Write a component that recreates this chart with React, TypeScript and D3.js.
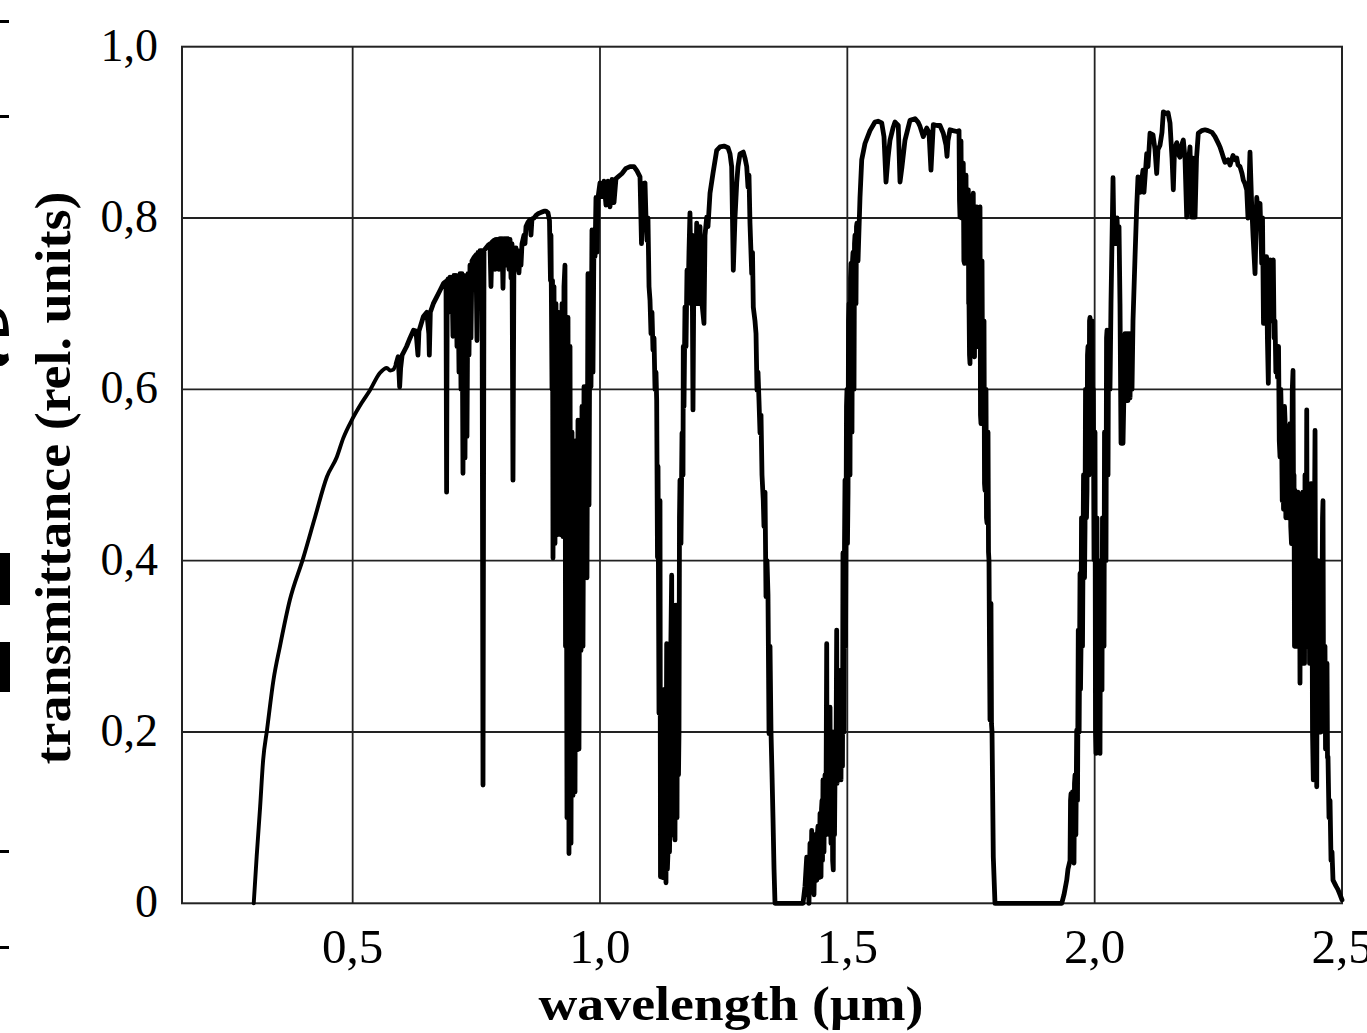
import React from 'react';
import * as d3 from 'd3';

// Axis ticks
const xTicks: number[] = [0.5, 1.0, 1.5, 2.0, 2.5];
const yTicks: number[] = [0, 0.2, 0.4, 0.6, 0.8, 1.0];
const xGrid: number[] = [0.5, 1.0, 1.5, 2.0];
const yGrid: number[] = [0.2, 0.4, 0.6, 0.8];

// Spectrum, [wavelength (nm), transmittance]
const risingEdge: [number, number][] = [
  [300, 0.0], [306, 0.055], [313, 0.113], [319, 0.167], [327, 0.203], [340, 0.261], [353, 0.3],
  [373, 0.354], [400, 0.403], [424, 0.451], [448, 0.498], [468, 0.521], [481, 0.543], [500, 0.566],
  [518, 0.584], [535, 0.599], [555, 0.619], [569, 0.625], [576, 0.622], [582, 0.623], [588, 0.63],
];

const orangeNotches: [number, number][] = [
  [588, 0.63], [592, 0.638], [594, 0.615], [595, 0.603], [597, 0.625], [600, 0.64], [609, 0.65], [616, 0.66],
  [623, 0.669], [628, 0.668], [632, 0.64], [634, 0.668], [643, 0.685], [650, 0.69], [654, 0.665],
  [655, 0.64], [657, 0.69], [663, 0.7], [670, 0.708], [677, 0.716], [684, 0.724],
];

const redBands: [number, number][] = [
  [688.7, 0.726], [689.9, 0.48], [691.2, 0.726], [692.7, 0.729], [694.8, 0.7], [696.8, 0.731],
  [698.8, 0.69], [700.8, 0.731], [702.8, 0.662], [704.8, 0.733], [706.9, 0.67], [708.9, 0.733],
  [710.9, 0.65], [712.9, 0.73], [715.0, 0.62], [717.0, 0.735], [719.0, 0.6], [721.0, 0.735],
  [723.0, 0.502], [725.1, 0.733], [727.1, 0.52], [729.1, 0.73], [731.1, 0.545], [733.1, 0.735],
  [735.2, 0.64], [737.2, 0.745], [739.2, 0.66], [741.2, 0.75], [745.3, 0.754], [749.3, 0.757],
  [751.3, 0.657], [753.4, 0.76], [755.4, 0.7], [757.4, 0.762], [761.5, 0.762], [763.5, 0.138],
  [765.5, 0.762], [769.5, 0.765], [773.6, 0.768], [777.6, 0.77], [779.6, 0.72], [781.7, 0.772],
  [785.7, 0.774], [787.7, 0.74], [789.8, 0.775], [791.8, 0.745], [793.8, 0.775], [795.8, 0.74],
  [797.8, 0.776], [799.9, 0.75], [801.9, 0.776], [803.9, 0.718], [805.9, 0.776], [808.0, 0.745],
  [810.0, 0.776], [812.0, 0.75], [814.0, 0.776], [816.0, 0.74], [818.1, 0.775], [820.1, 0.73],
  [822.1, 0.77], [824.1, 0.494], [826.1, 0.765], [828.2, 0.74], [830.2, 0.765], [832.2, 0.74],
  [834.2, 0.762], [836.2, 0.736], [838.3, 0.76], [840.3, 0.745], [842.3, 0.77], [846.4, 0.78],
  [848.4, 0.77], [850.4, 0.79], [854.4, 0.795], [858.5, 0.798], [860.5, 0.78], [862.5, 0.799],
  [866.6, 0.8], [870.6, 0.803], [874.7, 0.805], [878.7, 0.806], [882.7, 0.807], [886.8, 0.808],
  [890.8, 0.808], [894.9, 0.806], [897.9, 0.797],
];

const band940: [number, number][] = [
  [899.9, 0.727], [900.9, 0.78], [903.0, 0.6], [904.0, 0.727], [905.0, 0.403], [907.0, 0.72],
  [909.0, 0.42], [911.0, 0.7], [913.1, 0.43], [915.1, 0.69], [917.1, 0.44], [919.1, 0.681],
  [921.2, 0.43], [923.2, 0.7], [925.2, 0.428], [927.2, 0.72], [929.2, 0.745], [930.3, 0.3],
  [931.3, 0.684], [933.3, 0.1], [935.3, 0.684], [937.3, 0.058], [939.4, 0.65], [941.4, 0.07],
  [943.4, 0.55], [945.4, 0.126], [947.4, 0.521], [949.5, 0.13], [951.5, 0.54], [953.5, 0.179],
  [955.5, 0.564], [957.5, 0.18], [959.6, 0.564], [961.6, 0.295], [963.6, 0.58], [965.6, 0.3],
  [967.7, 0.603], [969.7, 0.381], [971.7, 0.603], [973.7, 0.38], [975.7, 0.735], [977.8, 0.465],
  [979.8, 0.735], [981.8, 0.603], [983.8, 0.786], [985.8, 0.62], [987.9, 0.786], [989.9, 0.755],
  [991.9, 0.824], [993.9, 0.76], [996.0, 0.824],
];

const window1060: [number, number][] = [
  [1000, 0.841], [1004.0, 0.825], [1008.1, 0.843], [1012.1, 0.815], [1016.2, 0.843], [1020.2, 0.813],
  [1024.3, 0.845], [1028.3, 0.818], [1032.3, 0.846], [1036.4, 0.848], [1044.5, 0.852], [1052.6, 0.858],
  [1060.6, 0.86], [1068.7, 0.86], [1074.8, 0.855], [1080.9, 0.848], [1083.9, 0.77], [1086.9, 0.84],
  [1091.0, 0.841], [1093.0, 0.8], [1095.0, 0.774], [1097.0, 0.8], [1099.1, 0.72], [1101.1, 0.704],
  [1103.1, 0.665], [1105.1, 0.69], [1107.1, 0.646], [1109.2, 0.66], [1111.2, 0.6], [1113.2, 0.62],
  [1114.6, 0.587], [1116.2, 0.404], [1117.3, 0.51], [1119.3, 0.222], [1121.3, 0.47], [1122.3, 0.031],
  [1123.3, 0.25], [1124.3, 0.06], [1125.3, 0.144], [1126.4, 0.03], [1127.4, 0.2], [1128.4, 0.04],
  [1129.4, 0.05], [1130.4, 0.22], [1131.4, 0.25], [1132.4, 0.06], [1133.4, 0.024], [1134.1, 0.2],
  [1134.8, 0.303], [1136.2, 0.04], [1137.5, 0.06], [1138.5, 0.28], [1139.5, 0.3], [1140.5, 0.06],
  [1141.5, 0.1], [1143.2, 0.3], [1144.9, 0.383], [1145.8, 0.1], [1146.6, 0.08], [1147.6, 0.3],
  [1148.6, 0.348], [1150.1, 0.09], [1151.6, 0.074], [1152.6, 0.3], [1153.6, 0.348], [1154.6, 0.1],
  [1155.7, 0.1], [1156.7, 0.33], [1157.7, 0.348], [1158.7, 0.15], [1159.7, 0.2], [1160.7, 0.45],
  [1161.7, 0.494], [1163.7, 0.42], [1165.8, 0.549], [1167.8, 0.5], [1168.4, 0.65], [1169.8, 0.58],
  [1171.8, 0.696], [1173.9, 0.65], [1175.9, 0.739], [1177.9, 0.7], [1179.9, 0.76], [1181.9, 0.806],
  [1184.0, 0.72], [1186.0, 0.78], [1188.0, 0.576], [1190.0, 0.76], [1192.1, 0.7], [1195.5, 0.794],
  [1198.1, 0.7], [1202.2, 0.79], [1206.2, 0.7], [1210.2, 0.677], [1212.3, 0.78], [1215.7, 0.801],
  [1218.3, 0.79], [1222.4, 0.829], [1228.4, 0.852], [1235.9, 0.879], [1242.6, 0.883], [1250.7, 0.884],
  [1258.8, 0.882], [1262.8, 0.875], [1266.2, 0.86], [1269.5, 0.739], [1272.9, 0.8], [1276.4, 0.841],
  [1279.0, 0.86], [1283.0, 0.875], [1289.7, 0.877], [1293.1, 0.87], [1296.6, 0.86], [1299.2, 0.836],
  [1301.2, 0.85], [1303.2, 0.794], [1306.7, 0.735], [1308.3, 0.76], [1309.9, 0.696], [1313.3, 0.68],
  [1315.4, 0.665], [1317.4, 0.599], [1319.4, 0.62], [1321.4, 0.587], [1323.5, 0.549], [1325.5, 0.57],
  [1327.5, 0.5], [1330.1, 0.47], [1331.5, 0.44], [1333.6, 0.48], [1335.6, 0.358], [1337.6, 0.4],
  [1339.6, 0.36], [1341.7, 0.198], [1343.7, 0.3], [1345.7, 0.2], [1347.7, 0.152], [1349.7, 0.1],
  [1351.8, 0.04], [1353.8, 0.0],
];

const window1600: [number, number][] = [
  [1374.0, 0], [1394.2, 0], [1410.4, 0], [1414.4, 0.02], [1417.9, 0.054], [1419.2, 0.01], [1420.5, 0.03],
  [1422.5, 0.0], [1424.5, 0.07], [1426.3, 0.02], [1428.0, 0.085], [1429.3, 0.02], [1430.6, 0.05],
  [1432.6, 0.01], [1434.6, 0.08], [1436.4, 0.03], [1438.1, 0.027], [1439.4, 0.08], [1440.7, 0.09],
  [1442.8, 0.03], [1444.8, 0.105], [1445.8, 0.05], [1446.8, 0.031], [1447.8, 0.11], [1448.8, 0.12],
  [1449.8, 0.05], [1450.8, 0.144], [1451.8, 0.07], [1452.8, 0.06], [1453.8, 0.13], [1454.9, 0.15],
  [1456.6, 0.08], [1458.3, 0.303], [1459.1, 0.1], [1459.9, 0.12], [1461.4, 0.22], [1462.9, 0.2],
  [1464.0, 0.08], [1465.0, 0.229], [1466.0, 0.1], [1467.0, 0.07], [1468.0, 0.2], [1469.0, 0.2],
  [1470.3, 0.05], [1471.6, 0.039], [1472.3, 0.18], [1473.1, 0.2], [1474.1, 0.08], [1475.1, 0.15],
  [1476.8, 0.14], [1478.5, 0.319], [1479.3, 0.14], [1480.1, 0.15], [1481.6, 0.26], [1483.2, 0.25],
  [1484.2, 0.15], [1485.2, 0.272], [1486.2, 0.16], [1487.2, 0.144], [1488.2, 0.27], [1489.2, 0.27],
  [1490.2, 0.16], [1491.2, 0.409], [1492.3, 0.22], [1493.3, 0.2], [1494.3, 0.42], [1495.3, 0.494],
  [1496.3, 0.3], [1497.3, 0.42], [1498.3, 0.58], [1499.3, 0.6], [1500.3, 0.42], [1501.4, 0.48],
  [1502.4, 0.68], [1503.4, 0.7], [1504.4, 0.5], [1505.4, 0.5], [1506.4, 0.73], [1507.4, 0.747],
  [1508.4, 0.55], [1509.4, 0.55], [1510.5, 0.75], [1511.5, 0.76], [1512.5, 0.6], [1513.5, 0.6],
  [1514.5, 0.77], [1515.5, 0.78], [1516.5, 0.7], [1517.5, 0.7], [1518.5, 0.79], [1519.5, 0.794],
  [1521.6, 0.75], [1525.6, 0.824], [1529.1, 0.868], [1535.7, 0.887], [1545.8, 0.902], [1555.9, 0.912],
  [1562.0, 0.913], [1569.5, 0.911], [1574.1, 0.895], [1578.2, 0.842], [1582.2, 0.87], [1586.3, 0.891],
  [1592.3, 0.905], [1596.4, 0.912], [1603.0, 0.908], [1606.5, 0.842], [1610.5, 0.86], [1616.6, 0.891],
  [1622.7, 0.905], [1626.7, 0.914], [1636.8, 0.916], [1642.9, 0.912], [1646.9, 0.907], [1653.6, 0.895],
  [1660.5, 0.905], [1665.1, 0.9], [1669.1, 0.856], [1673.8, 0.909], [1681.3, 0.908], [1687.3, 0.908],
  [1694.0, 0.899], [1699.5, 0.885], [1701.5, 0.872], [1703.5, 0.89], [1707.6, 0.903], [1713.6, 0.902],
  [1721.1, 0.901], [1725.8, 0.902], [1726.8, 0.82], [1727.8, 0.801], [1728.8, 0.88], [1729.8, 0.89],
  [1730.8, 0.8], [1731.8, 0.8], [1733.1, 0.86], [1734.4, 0.864], [1735.6, 0.75], [1736.9, 0.747],
  [1738.4, 0.85], [1739.9, 0.85], [1740.9, 0.76], [1741.9, 0.76], [1743.2, 0.83], [1744.6, 0.833],
  [1745.3, 0.7], [1746.0, 0.7], [1747.0, 0.64], [1748.0, 0.63], [1749.0, 0.8], [1750.0, 0.8],
  [1751.0, 0.7], [1752.0, 0.7], [1753.3, 0.82], [1754.6, 0.829], [1755.8, 0.64], [1757.1, 0.638],
  [1758.1, 0.8], [1759.1, 0.8], [1760.3, 0.81], [1761.5, 0.813], [1762.4, 0.66], [1763.2, 0.65],
  [1764.2, 0.8], [1765.2, 0.8], [1766.7, 0.81], [1768.2, 0.813], [1769.2, 0.57], [1770.2, 0.56],
  [1771.2, 0.74], [1772.3, 0.75], [1773.6, 0.57], [1774.9, 0.56], [1775.6, 0.67], [1776.3, 0.68],
  [1777.3, 0.49], [1778.3, 0.482], [1779.3, 0.6], [1780.3, 0.6], [1781.3, 0.45], [1782.4, 0.444],
  [1783.4, 0.55], [1784.4, 0.55], [1785.4, 0.41], [1786.4, 0.4], [1787.4, 0.3], [1788.4, 0.214],
  [1789.4, 0.34], [1790.4, 0.35], [1791.4, 0.21], [1792.5, 0.2], [1795.1, 0.054], [1798.5, 0], [1814.7, 0],
];

const window2200: [number, number][] = [
  [1869.3, 0], [1933.4, 0], [1938.0, 0.01], [1943.5, 0.027], [1946.1, 0.04], [1950.2, 0.05],
  [1951.2, 0.12], [1952.2, 0.128], [1953.2, 0.06], [1954.2, 0.06], [1955.2, 0.13], [1956.2, 0.128],
  [1957.2, 0.05], [1958.2, 0.047], [1959.2, 0.14], [1960.3, 0.15], [1962.0, 0.08], [1963.7, 0.202],
  [1965.3, 0.12], [1966.9, 0.319], [1968.6, 0.2], [1970.4, 0.385], [1971.4, 0.25], [1972.4, 0.3],
  [1973.4, 0.45], [1974.4, 0.45], [1975.4, 0.3], [1976.4, 0.4], [1977.5, 0.5], [1978.5, 0.49],
  [1979.5, 0.38], [1980.5, 0.44], [1981.5, 0.6], [1982.5, 0.6], [1983.5, 0.45], [1984.5, 0.482],
  [1985.5, 0.64], [1986.5, 0.65], [1987.5, 0.5], [1988.6, 0.5], [1989.6, 0.68], [1990.6, 0.684],
  [1991.6, 0.55], [1992.6, 0.55], [1993.6, 0.68], [1994.6, 0.68], [1996.0, 0.55], [1997.3, 0.6],
  [1998.7, 0.401], [1999.7, 0.52], [2000.7, 0.55], [2001.7, 0.2], [2002.7, 0.175], [2003.7, 0.44],
  [2004.7, 0.45], [2005.7, 0.2], [2006.8, 0.2], [2007.8, 0.4], [2008.8, 0.4], [2009.8, 0.18],
  [2010.8, 0.175], [2011.8, 0.4], [2012.8, 0.4], [2013.8, 0.25], [2014.8, 0.249], [2015.8, 0.45],
  [2016.9, 0.45], [2017.9, 0.3], [2018.9, 0.3], [2019.9, 0.55], [2020.9, 0.55], [2021.9, 0.4],
  [2022.9, 0.4], [2024.0, 0.66], [2025.0, 0.669], [2026.0, 0.5], [2027.0, 0.5], [2028.0, 0.66],
  [2029.0, 0.669], [2031.0, 0.6], [2033.0, 0.7], [2037.1, 0.847], [2039.1, 0.77], [2041.1, 0.8],
  [2043.1, 0.77], [2045.2, 0.8], [2047.2, 0.77], [2049.2, 0.79], [2051.2, 0.7], [2053.3, 0.537],
  [2055.3, 0.65], [2057.3, 0.537], [2059.3, 0.6], [2061.3, 0.665], [2063.4, 0.587], [2065.4, 0.665],
  [2067.4, 0.587], [2069.4, 0.665], [2071.5, 0.59], [2073.5, 0.665], [2075.5, 0.6], [2077.5, 0.68],
  [2081.6, 0.755], [2085.0, 0.813], [2087.6, 0.848], [2091.7, 0.83], [2097.7, 0.856], [2099.7, 0.83],
  [2105.2, 0.875], [2107.8, 0.86], [2111.9, 0.899], [2117.9, 0.897], [2122.0, 0.88], [2125.4, 0.852],
  [2128.0, 0.88], [2132.1, 0.885], [2136.1, 0.9], [2138.8, 0.924], [2144.2, 0.922], [2148.3, 0.923],
  [2152.3, 0.911], [2154.3, 0.89], [2156.4, 0.87], [2159.0, 0.833], [2161.4, 0.88], [2165.9, 0.888],
  [2168.5, 0.875], [2172.5, 0.871], [2175.6, 0.885], [2179.2, 0.891], [2182.6, 0.87], [2186.1, 0.801],
  [2188.7, 0.86], [2192.7, 0.883], [2196.2, 0.801], [2198.8, 0.87], [2202.9, 0.801], [2205.9, 0.87],
  [2209.5, 0.899], [2216.4, 0.902], [2223.1, 0.903], [2229.1, 0.902], [2237.2, 0.9], [2243.3, 0.895],
  [2249.3, 0.888], [2253.4, 0.883], [2257.4, 0.876], [2260.1, 0.871], [2263.5, 0.865], [2269.6, 0.868],
  [2273.6, 0.862], [2279.7, 0.873], [2283.7, 0.868], [2287.2, 0.87], [2289.8, 0.862], [2293.8, 0.86],
  [2297.9, 0.852], [2300.6, 0.844], [2303.9, 0.84], [2307.4, 0.833], [2310.0, 0.8], [2314.0, 0.877],
  [2317.1, 0.82], [2320.1, 0.78], [2324.2, 0.735], [2327.6, 0.824], [2330.2, 0.81], [2334.3, 0.817],
  [2337.7, 0.747], [2339.3, 0.8], [2341.3, 0.677], [2343.4, 0.755], [2345.4, 0.68], [2347.4, 0.755],
  [2349.2, 0.66], [2351.1, 0.607], [2352.5, 0.7], [2354.5, 0.751], [2356.0, 0.68], [2357.5, 0.7],
  [2359.3, 0.74], [2361.1, 0.751], [2362.8, 0.66], [2364.6, 0.68], [2366.3, 0.62], [2368.0, 0.65],
  [2369.6, 0.614], [2371.7, 0.65], [2373.2, 0.54], [2374.7, 0.521], [2376.2, 0.6], [2377.7, 0.56],
  [2379.2, 0.47], [2380.8, 0.58], [2381.8, 0.46], [2382.8, 0.5], [2383.8, 0.58], [2384.8, 0.565],
  [2386.5, 0.45], [2388.2, 0.55], [2389.5, 0.47], [2390.8, 0.45], [2392.8, 0.55], [2394.9, 0.56],
  [2396.4, 0.44], [2397.9, 0.42], [2399.5, 0.6], [2401.0, 0.622], [2402.0, 0.47], [2403.0, 0.5],
  [2404.0, 0.3], [2405.0, 0.482], [2406.7, 0.3], [2408.4, 0.3], [2409.8, 0.47], [2411.1, 0.48],
  [2412.1, 0.3], [2413.1, 0.35], [2414.1, 0.45], [2415.1, 0.257], [2416.1, 0.45], [2417.1, 0.45],
  [2418.2, 0.3], [2419.2, 0.35], [2420.7, 0.48], [2422.2, 0.48], [2423.2, 0.28], [2424.2, 0.28],
  [2425.2, 0.5], [2426.2, 0.5], [2427.5, 0.3], [2428.7, 0.576], [2430.0, 0.3], [2431.3, 0.35],
  [2432.3, 0.48], [2433.3, 0.48], [2434.4, 0.28], [2435.4, 0.28], [2437.1, 0.49], [2438.8, 0.49],
  [2440.4, 0.2], [2442.0, 0.144], [2443.2, 0.45], [2444.4, 0.45], [2445.5, 0.552], [2446.5, 0.3],
  [2447.5, 0.3], [2448.2, 0.2], [2448.9, 0.136], [2450.2, 0.4], [2451.5, 0.4], [2452.5, 0.2],
  [2453.5, 0.2], [2454.5, 0.29], [2455.5, 0.292], [2456.5, 0.2], [2457.5, 0.2], [2458.6, 0.35],
  [2459.6, 0.35], [2460.6, 0.45], [2461.6, 0.47], [2462.6, 0.25], [2463.6, 0.25], [2464.6, 0.3],
  [2465.6, 0.3], [2466.7, 0.18], [2467.7, 0.18], [2468.7, 0.28], [2469.7, 0.28], [2470.7, 0.17],
  [2471.7, 0.171], [2473.7, 0.1], [2475.8, 0.12], [2477.8, 0.05], [2479.8, 0.06], [2481.8, 0.027],
  [2487.9, 0.02], [2491.9, 0.016], [2496.0, 0.01], [2500.0, 0.004],
];

const nirSpectrum: [number, number][] = [
  ...orangeNotches, ...redBands, ...band940, ...window1060, ...window1600, ...window2200,
];

const xTitle = 'wavelength (\u00b5m)';
const yTitle = 'transmittance (rel. units)';

const fmt = (v: number) => (v === 0 ? '0' : v.toFixed(1).replace('.', ','));

const W = 1367;
const H = 1033;
const PL = 182;
const PR = 1342;
const PT = 46.7;
const PB = 903.3;

export default function App() {
  const x = d3.scaleLinear().domain([0.155, 2.5]).range([PL, PR]);
  const y = d3.scaleLinear().domain([0, 1]).range([PB, PT]);
  const smooth = d3
    .line<[number, number]>()
    .x((d) => x(d[0] / 1000))
    .y((d) => y(d[1]))
    .curve(d3.curveMonotoneX);
  const line = d3
    .line<[number, number]>()
    .x((d) => x(d[0] / 1000))
    .y((d) => y(d[1]));
  const serif = "'Liberation Serif', 'Times New Roman', serif";

  return (
    <svg
      width={W}
      height={H}
      viewBox={`0 0 ${W} ${H}`}
      style={{ position: 'absolute', left: 0, top: 0, display: 'block', background: '#fff' }}
    >
      <rect x={0} y={0} width={W} height={H} fill="#fff" />
      {/* cropped slide fragments at the left edge */}
      <rect x={0} y={20} width={9} height={3} fill="#000" />
      <rect x={0} y={115} width={9} height={3} fill="#000" />
      <rect x={0} y={850} width={9} height={3} fill="#000" />
      <rect x={0} y={946} width={9} height={3} fill="#000" />
      <rect x={0} y={553} width={10} height={52} fill="#000" />
      <rect x={0} y={642} width={10} height={50} fill="#000" />
      <path d="M0,309 C6,311 9,322 9,336 L0,336 L0,329 L3,329 C3,322 2,318 0,317 Z" fill="#000" />
      <path d="M0,354 C3,355 6,355 8,353 L9,360 C6,364 3,366 0,366 Z" fill="#000" />

      {/* grid */}
      {xGrid.map((t) => (
        <line key={'gx' + t} x1={x(t)} x2={x(t)} y1={PT} y2={PB} stroke="#222" strokeWidth={1.8} />
      ))}
      {yGrid.map((t) => (
        <line key={'gy' + t} x1={PL} x2={PR} y1={y(t)} y2={y(t)} stroke="#222" strokeWidth={1.8} />
      ))}
      <rect x={PL} y={PT} width={PR - PL} height={PB - PT} fill="none" stroke="#222" strokeWidth={2} />

      {/* spectrum */}
      <path
        d={smooth(risingEdge) || ''}
        fill="none"
        stroke="#000"
        strokeWidth={3.9}
        strokeLinecap="round"
      />
      <path
        d={line(nirSpectrum) || ''}
        fill="none"
        stroke="#000"
        strokeWidth={4.8}
        strokeLinejoin="round"
        strokeLinecap="round"
      />

      {/* y tick labels */}
      {yTicks.map((t) => (
        <text key={'yt' + t} x={158} y={y(t) + 14} textAnchor="end" fontFamily={serif} fontSize={46} fill="#000">
          {fmt(t)}
        </text>
      ))}
      {/* x tick labels */}
      {xTicks.map((t) => (
        <text key={'xt' + t} x={x(t)} y={963} textAnchor="middle" fontFamily={serif} fontSize={49} fill="#000">
          {fmt(t)}
        </text>
      ))}

      <text
        x={731}
        y={1020}
        textAnchor="middle"
        fontFamily={serif}
        fontWeight="bold"
        fontSize={48}
        textLength={385}
        lengthAdjust="spacingAndGlyphs"
        fill="#000"
      >
        {xTitle}
      </text>
      <text
        transform="translate(70,478) rotate(-90)"
        textAnchor="middle"
        fontFamily={serif}
        fontWeight="bold"
        fontSize={50}
        textLength={573}
        lengthAdjust="spacingAndGlyphs"
        fill="#000"
      >
        {yTitle}
      </text>
    </svg>
  );
}
